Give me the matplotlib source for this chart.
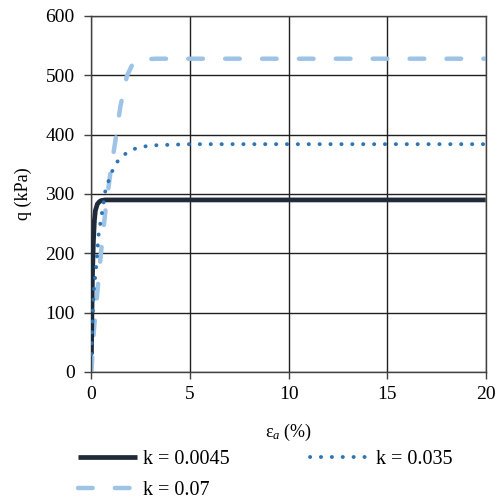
import numpy as np
import matplotlib.pyplot as plt

# strain (%) and deviator stress q (kPa) for each k
eps_k1 = [0, 0.02, 0.05, 0.1, 0.15, 0.2, 0.3, 0.4, 0.5, 0.7, 1.0, 20]
q_k1 = [30, 90, 160, 220, 255, 272, 283, 287, 289, 290, 290, 290]

eps_k2 = [0, 0.03, 0.12, 0.25, 0.37, 0.46, 0.71, 1.0, 1.3, 1.69, 2.18, 2.65, 3.15, 4.0, 5.0, 20]
q_k2 = [30, 68, 136, 182, 233, 252, 306, 335, 354, 367, 376, 380, 382, 383, 384, 384]

eps_k3 = [0, 0.12, 0.46, 0.71, 0.96, 1.22, 1.47, 1.8, 2.13, 2.6, 3.3, 5.0, 20]
q_k3 = [0, 68, 193, 272, 335, 391, 448, 499, 522, 527, 528, 528, 528]

labels = ['k = 0.0045', 'k = 0.035', 'k = 0.07']

serif = 'Liberation Serif'
plt.rcParams['mathtext.fontset'] = 'custom'
plt.rcParams['mathtext.it'] = 'Liberation Serif:italic'
plt.rcParams['mathtext.rm'] = 'Liberation Serif'

fig = plt.figure(figsize=(5.01, 5.0), dpi=100)
ax = fig.add_axes([0.1825, 0.256, 0.787, 0.712])

l1, = ax.plot(eps_k1, q_k1, color='#1f2a3a', lw=3.4, solid_capstyle='butt', zorder=3)
l2, = ax.plot(eps_k2, q_k2, color='#2e75b6', lw=2.8, dash_capstyle='round',
              dashes=(0.05, 2.75), zorder=4)
l3, = ax.plot(eps_k3, q_k3, color='#9dc3e6', lw=3.2, dash_capstyle='round',
              dashes=(3.3, 5.0), zorder=2)

ax.set_xlim(0, 20)
ax.set_ylim(0, 600)
ax.set_xticks(np.arange(0, 21, 5))
ax.set_yticks(np.arange(0, 601, 100))
ax.grid(True, color='#202020', lw=1.0)
ax.set_axisbelow(True)
for s in ax.spines.values():
    s.set_color('#404040')
    s.set_linewidth(1.0)
ax.tick_params(direction='out', length=5, width=1, color='#404040', labelsize=14)
ax.tick_params(axis='x', pad=5)
ax.tick_params(axis='y', pad=7)
for t in ax.get_xticklabels() + ax.get_yticklabels():
    t.set_family(serif)

ax.set_xlabel('ε$_a$ (%)', family=serif, fontsize=13, labelpad=14)
ax.set_ylabel('q (kPa)', family=serif, fontsize=13, labelpad=10)

# two columns: 0.0045 and 0.07 on the left, 0.035 on the right
fig.legend([l1, l3, l2], [labels[0], labels[2], labels[1]], loc='upper left',
           bbox_to_anchor=(0.12, 0.136), ncol=2, frameon=False, handlelength=2.9,
           columnspacing=4.0, handletextpad=0.33, labelspacing=0.6,
           prop={'family': serif, 'size': 14.5})

fig.savefig('out.png', dpi=100)
